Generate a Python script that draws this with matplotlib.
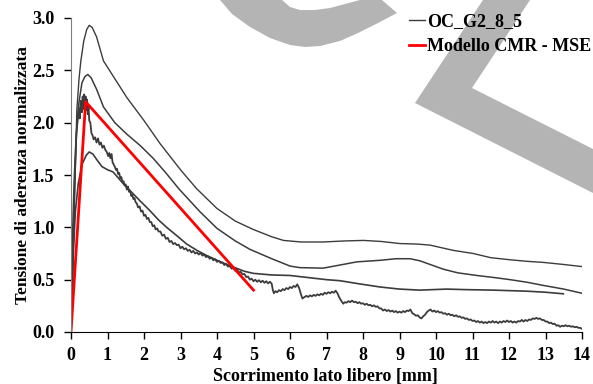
import matplotlib
matplotlib.use("Agg")
import matplotlib.pyplot as plt
from matplotlib.patches import Polygon

# ---------------- data ----------------
xA = [0, 0.05, 0.1, 0.16, 0.22, 0.27, 0.35, 0.43, 0.5, 0.58,
      0.7, 0.89, 1.2, 1.53, 2.0, 2.44, 3.0, 3.44, 4.0, 4.5,
      4.99, 5.5, 5.82, 6.3, 6.91, 7.5, 8.01, 8.5, 9.01, 9.5,
      9.84, 10.47, 11.02, 11.5, 12.03, 12.5, 12.94, 13.5, 14.0]
yA = [0, 0.6, 1.3, 2.12, 2.42, 2.59, 2.78, 2.89, 2.93, 2.91,
      2.82, 2.59, 2.42, 2.24, 2.02, 1.80, 1.55, 1.37, 1.18, 1.06,
      0.98, 0.91, 0.875, 0.86, 0.86, 0.87, 0.875, 0.865, 0.845, 0.84,
      0.83, 0.78, 0.75, 0.71, 0.69, 0.675, 0.665, 0.645, 0.625]

xB = [0, 0.05, 0.1, 0.15, 0.22, 0.3, 0.38, 0.46, 0.55, 0.7,
      0.89, 1.2, 1.53, 1.9, 2.25, 2.6, 2.95, 3.53, 4.0, 4.5,
      4.9, 5.5, 6.0, 6.27, 6.91, 7.37, 7.83, 8.47, 8.9, 9.29,
      9.56, 10.2, 10.6, 11.12, 11.6, 12.03, 12.5, 12.94, 13.5, 14.0]
yB = [0, 0.7, 1.4, 1.9, 2.2, 2.38, 2.44, 2.46, 2.43, 2.32,
      2.15, 2.0, 1.89, 1.78, 1.66, 1.52, 1.37, 1.15, 0.99, 0.87,
      0.79, 0.70, 0.63, 0.615, 0.61, 0.64, 0.67, 0.685, 0.70, 0.70,
      0.68, 0.60, 0.565, 0.54, 0.52, 0.50, 0.475, 0.445, 0.41, 0.37]

xC = [0, 0.03, 0.07, 0.12, 0.2, 0.3, 0.42, 0.5, 0.6, 0.72,
      0.85, 1.0, 1.15, 1.3, 1.45, 1.62, 1.9, 2.16, 2.4, 2.62,
      2.9, 3.17, 3.45, 3.72, 4.1, 4.45, 4.75, 5.0, 5.5, 6.0,
      6.5, 7.0, 7.37, 7.9, 8.47, 9.0, 9.56, 10.29, 10.8, 11.57,
      12.48, 13.0, 13.49]
yC = [0, 0.4, 0.8, 1.15, 1.42, 1.6, 1.69, 1.72, 1.70, 1.64,
      1.58, 1.55, 1.53, 1.47, 1.41, 1.35, 1.25, 1.16, 1.07, 1.0,
      0.92, 0.84, 0.78, 0.73, 0.67, 0.62, 0.58, 0.56, 0.545, 0.54,
      0.52, 0.50, 0.49, 0.46, 0.43, 0.41, 0.40, 0.41, 0.405, 0.40,
      0.39, 0.38, 0.365]

xD = [0, 0.03, 0.06, 0.09, 0.12, 0.15, 0.18, 0.21, 0.24, 0.27,
      0.30, 0.32, 0.34, 0.36, 0.38, 0.40, 0.42, 0.44, 0.46, 0.48,
      0.50, 0.53, 0.56, 0.59, 0.62, 0.66, 0.70, 0.74, 0.78, 0.82,
      0.86, 0.90, 0.94, 0.98, 1.02, 1.05, 1.08, 1.11, 1.14, 1.17,
      1.20, 1.23, 1.26, 1.29, 1.32, 1.35, 1.38, 1.41, 1.44, 1.47,
      1.50, 1.53, 1.56, 1.59, 1.62, 1.65, 1.68, 1.71, 1.74, 1.77,
      1.80, 1.84, 1.88, 1.92, 1.96, 2.00, 2.04, 2.08, 2.12, 2.16,
      2.20, 2.24, 2.28, 2.32, 2.36, 2.40, 2.45, 2.50, 2.55, 2.60,
      2.65, 2.70, 2.75, 2.80, 2.85, 2.90, 2.95, 3.00, 3.05, 3.10,
      3.15, 3.20, 3.25, 3.30, 3.35, 3.40, 3.45, 3.50, 3.55, 3.60,
      3.65, 3.70, 3.75, 3.80, 3.85, 3.90, 3.95, 4.00, 4.05, 4.10,
      4.15, 4.20, 4.25, 4.30, 4.35, 4.40, 4.45, 4.50, 4.55, 4.60,
      4.65, 4.70, 4.75, 4.80, 4.85, 4.90, 4.95, 5.00, 5.05, 5.10,
      5.15, 5.20, 5.25, 5.30, 5.35, 5.40, 5.45, 5.50, 5.53, 5.56,
      5.60, 5.65, 5.70, 5.75, 5.80, 5.85, 5.90, 5.95, 6.00, 6.05,
      6.10, 6.15, 6.20, 6.25, 6.30, 6.34, 6.38, 6.45, 6.50, 6.55,
      6.60, 6.65, 6.70, 6.75, 6.80, 6.85, 6.90, 6.95, 7.00, 7.05,
      7.10, 7.15, 7.20, 7.25, 7.30, 7.35, 7.40, 7.46, 7.50, 7.55,
      7.60, 7.65, 7.70, 7.75, 7.80, 7.85, 7.90, 7.95, 8.00, 8.05,
      8.10, 8.15, 8.20, 8.25, 8.30, 8.35, 8.40, 8.45, 8.50, 8.55,
      8.60, 8.65, 8.70, 8.75, 8.80, 8.85, 8.90, 8.95, 9.00, 9.05,
      9.10, 9.15, 9.20, 9.25, 9.30, 9.35, 9.40, 9.45, 9.50, 9.55,
      9.60, 9.65, 9.70, 9.75, 9.80, 9.85, 9.90, 9.95, 10.00, 10.05,
      10.10, 10.15, 10.20, 10.25, 10.30, 10.35, 10.40, 10.45, 10.50, 10.55,
      10.60, 10.65, 10.70, 10.75, 10.80, 10.85, 10.90, 10.95, 11.00, 11.05,
      11.10, 11.15, 11.20, 11.25, 11.30, 11.35, 11.40, 11.45, 11.50, 11.55,
      11.60, 11.65, 11.70, 11.75, 11.80, 11.85, 11.90, 11.95, 12.00, 12.05,
      12.10, 12.15, 12.20, 12.25, 12.30, 12.35, 12.40, 12.45, 12.50, 12.55,
      12.60, 12.65, 12.70, 12.75, 12.80, 12.85, 12.90, 12.95, 13.00, 13.05,
      13.10, 13.15, 13.20, 13.25, 13.30, 13.35, 13.40, 13.45, 13.50, 13.55,
      13.60, 13.65, 13.70, 13.75, 13.80, 13.85, 13.90, 13.95, 14.00]
yD = [0, 0.70, 1.10, 1.45, 1.70, 1.90, 2.02, 2.14, 2.04, 2.21,
      2.10, 2.25, 2.13, 2.27, 2.15, 2.25, 2.12, 2.22, 2.08, 2.15,
      2.02, 2.00, 1.90, 1.88, 1.84, 1.86, 1.81, 1.85, 1.79, 1.81,
      1.76, 1.78, 1.74, 1.72, 1.68, 1.71, 1.66, 1.70, 1.62, 1.60,
      1.58, 1.55, 1.56, 1.51, 1.52, 1.47, 1.48, 1.43, 1.44, 1.40,
      1.41, 1.36, 1.39, 1.34, 1.35, 1.30, 1.31, 1.27, 1.28, 1.24,
      1.23, 1.19, 1.20, 1.15, 1.16, 1.11, 1.12, 1.08, 1.09, 1.05,
      1.05, 1.01, 1.02, 0.98, 0.99, 0.96, 0.96, 0.92, 0.93, 0.89,
      0.90, 0.86, 0.87, 0.84, 0.85, 0.83, 0.835, 0.80, 0.815, 0.79,
      0.80, 0.775, 0.785, 0.76, 0.775, 0.75, 0.76, 0.74, 0.755, 0.73,
      0.74, 0.715, 0.725, 0.70, 0.71, 0.685, 0.695, 0.67, 0.68, 0.66,
      0.665, 0.64, 0.65, 0.625, 0.63, 0.605, 0.61, 0.585, 0.595, 0.57,
      0.575, 0.55, 0.555, 0.525, 0.53, 0.50, 0.51, 0.485, 0.50, 0.48,
      0.495, 0.475, 0.49, 0.47, 0.485, 0.465, 0.48, 0.46, 0.40, 0.37,
      0.39, 0.38, 0.40, 0.39, 0.41, 0.40, 0.42, 0.41, 0.43, 0.42,
      0.44, 0.43, 0.455, 0.42, 0.36, 0.32, 0.33, 0.345, 0.335, 0.35,
      0.34, 0.355, 0.345, 0.36, 0.35, 0.365, 0.355, 0.375, 0.365, 0.38,
      0.37, 0.385, 0.375, 0.395, 0.37, 0.33, 0.30, 0.27, 0.285, 0.28,
      0.295, 0.285, 0.30, 0.285, 0.29, 0.275, 0.285, 0.27, 0.275, 0.26,
      0.27, 0.255, 0.26, 0.245, 0.255, 0.24, 0.245, 0.225, 0.225, 0.205,
      0.215, 0.20, 0.21, 0.195, 0.205, 0.19, 0.20, 0.185, 0.195, 0.185,
      0.20, 0.19, 0.205, 0.20, 0.215, 0.18, 0.17, 0.155, 0.16, 0.14,
      0.13, 0.15, 0.165, 0.19, 0.205, 0.215, 0.195, 0.205, 0.19, 0.20,
      0.185, 0.19, 0.175, 0.18, 0.165, 0.175, 0.16, 0.165, 0.15, 0.16,
      0.145, 0.15, 0.135, 0.14, 0.125, 0.13, 0.115, 0.12, 0.105, 0.11,
      0.095, 0.105, 0.09, 0.10, 0.085, 0.095, 0.085, 0.10, 0.09, 0.105,
      0.09, 0.10, 0.085, 0.10, 0.09, 0.105, 0.095, 0.11, 0.095, 0.105,
      0.09, 0.10, 0.09, 0.105, 0.10, 0.115, 0.10, 0.115, 0.105, 0.12,
      0.115, 0.13, 0.125, 0.135, 0.125, 0.13, 0.115, 0.115, 0.10, 0.10,
      0.085, 0.09, 0.075, 0.08, 0.06, 0.065, 0.05, 0.06, 0.055, 0.065,
      0.055, 0.06, 0.05, 0.055, 0.045, 0.05, 0.04, 0.04, 0.03]

x_model = [0, 0.4, 5.0]
y_model = [0, 2.2, 0.4]

x_ticks = list(range(0, 15))
y_ticks = [0.0, 0.5, 1.0, 1.5, 2.0, 2.5, 3.0]
x_ticklabels = [str(v) for v in x_ticks]
y_ticklabels = ["0.0", "0.5", "1.0", "1.5", "2.0", "2.5", "3.0"]
label_exp = "OC_G2_8_5"
label_model = "Modello CMR - MSE"
xlabel = "Scorrimento lato libero [mm]"
ylabel = "Tensione di aderenza normalizzata"

# ---------------- figure ----------------
W, H = 593, 384
plt.rcParams['font.family'] = ['Liberation Serif', 'DejaVu Serif']
plt.rcParams['font.weight'] = 'bold'
fig = plt.figure(figsize=(W / 100, H / 100), dpi=100)
fig.patch.set_facecolor('white')

def px(pts):
    return [(x / W, 1 - y / H) for x, y in pts]

wm = '#b4b4b4'
ring = [(220, 0), (232, 14), (250, 27), (270, 38), (290, 45), (305, 47), (320, 46),
        (340, 41), (358, 33), (378, 23), (397, 13), (382, 0), (360, 0), (345, 4),
        (330, 8), (315, 10), (300, 10), (290, 7), (282, 0)]
ell = [(483, 0), (530, 0), (472, 88), (593, 149), (593, 193), (415, 103)]
for shape in (ring, ell):
    fig.add_artist(Polygon(px(shape), closed=True, transform=fig.transFigure,
                           facecolor=wm, edgecolor='none', zorder=-5))

ax = fig.add_axes([71 / W, 1 - 332 / H, (582 - 71) / W, (332 - 18) / H])
ax.set_facecolor('none')

dark = '#3c3c3c'
ax.plot(xA, yA, color=dark, lw=1.0, label=label_exp)
ax.plot(xB, yB, color=dark, lw=1.1)
ax.plot(xC, yC, color=dark, lw=1.2)
ax.plot(xD, yD, color=dark, lw=1.3)
ax.plot(x_model, y_model, color='#ff0000', lw=2.0, label=label_model)

ax.set_xlim(0, 14)
ax.set_ylim(0, 3.0)
ax.set_xticks(x_ticks)
ax.set_yticks(y_ticks)
ax.set_xticklabels(x_ticklabels, fontsize=13, fontweight='bold', family='Liberation Serif')
ax.set_yticklabels(y_ticklabels, fontsize=13, fontweight='bold', family='Liberation Serif')
for s in ('top', 'right'):
    ax.spines[s].set_visible(False)
ax.spines['left'].set_color('#808080')
ax.spines['bottom'].set_color('black')
ax.tick_params(axis='both', direction='out', length=5, width=1, colors='black')
ax.tick_params(axis='y', pad=7)
ax.tick_params(axis='x', pad=6)

ax.set_xlabel(xlabel, fontsize=13, fontweight='bold')
ax.set_ylabel(ylabel, fontsize=12.5, fontweight='bold')
ax.xaxis.set_label_coords(0.498, -0.114)
ax.yaxis.set_label_coords(-0.078, 0.5)

leg = ax.legend(loc='upper left', bbox_to_anchor=(409 / W, 1 - 13 / H), bbox_transform=fig.transFigure,
                frameon=False, fontsize=13, handlelength=0.9, handletextpad=0.1,
                labelspacing=0.45, borderaxespad=0, borderpad=0)
for t in leg.get_texts():
    t.set_fontweight('bold')

fig.savefig('out.png', dpi=100)
